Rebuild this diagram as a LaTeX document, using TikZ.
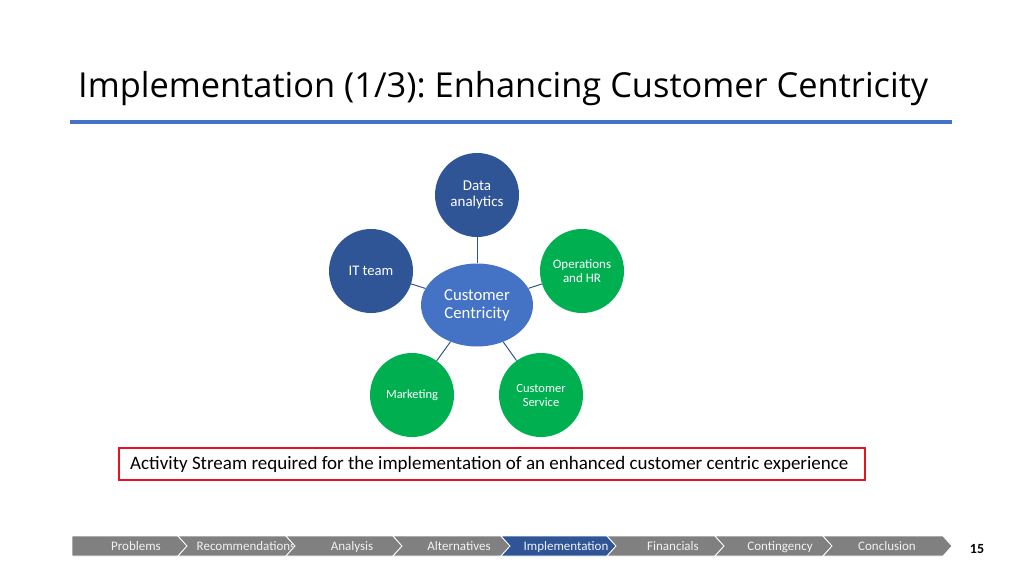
\documentclass[tikz,border=0pt]{standalone}
\usepackage{xcolor}
\usepackage{tikz}
\usepackage{fontspec}
\usetikzlibrary{shapes.geometric}
\setmainfont{Carlito}
\newfontfamily\titlefont{Open Sans}
\definecolor{hubblue}{RGB}{68,114,196}
\definecolor{deepblue}{RGB}{47,85,151}
\definecolor{leafgreen}{RGB}{0,176,80}
\definecolor{navgray}{RGB}{128,128,128}
\definecolor{boxred}{RGB}{232,17,35}
\frenchspacing

\begin{document}
\begin{tikzpicture}[x=1pt,y=-1pt,
    every node/.style={align=center,text=white},
    hub/.style={shape=ellipse,fill=hubblue,minimum width=112pt,minimum height=83pt,inner sep=0pt,font=\fontsize{16.7}{18}\selectfont},
    leaf/.style 2 args={shape=circle,minimum size=84pt,inner sep=0pt,font=\fontsize{#1}{#2}\selectfont},
    link/.style={draw=deepblue,line width=1pt},
    navtext/.style={anchor=base,text=white!95!black,font=\fontsize{13}{15}\selectfont}]
    \useasboundingbox (0,0) rectangle (1024,575);
    % title
    \node[anchor=base west,text=black,inner sep=0pt,font=\titlefont\fontsize{34.4}{40}\selectfont] (title) at (78,98) {Implementation (1/3): Enhancing Customer Centricity};
    \draw[hubblue,line width=4pt] (70,122) -- (952,122);
    % hub and leaves
    \node[hub] (cc) at (477,305) {Customer\\Centricity};
    \node[leaf={15}{16},fill=deepblue] (da) at (477,195) {Data\\analytics};
    \node[leaf={14.6}{16},fill=deepblue] (it) at (371,271) {IT team};
    \node[leaf={13}{14},fill=leafgreen] (op) at (582,271) {Operations\\and HR};
    \node[leaf={12.5}{14},fill=leafgreen] (mk) at (412,395) {Marketing};
    \node[leaf={12.5}{14},fill=leafgreen] (cs) at (541,395) {Customer\\Service};
    \foreach \n in {da,it,op,mk,cs}
        \draw[link] (cc) -- (\n);
    % note
    \node[draw=boxred,line width=2pt,minimum width=746pt,minimum height=32pt] (note) at (492,464) {};
    \node[anchor=west,text=black,inner sep=0pt,font=\fontsize{19}{22}\selectfont] (notetext) at (130,464) {Activity Stream required for the implementation of an enhanced customer centric experience};
    % navigation bar
    \foreach \a/\b/\m/\t/\c [count=\i] in {72/178/136/Problems/navgray,178/286/246/Recommendations/navgray,286/393/352/Analysis/navgray,393/501/459/Alternatives/navgray,501/607/566/Implementation/deepblue,607/715/673/Financials/navgray,715/823/780/Contingency/navgray,823/943/887/Conclusion/navgray}{
        \pgfmathsetmacro\k{\i==1 ? 0 : 9}
        \filldraw[fill=\c,draw=white,line width=0.8pt] (\a,536) -- (\b,536) -- (\b+9,546) -- (\b,556) -- (\a,556) -- (\a+\k,546) -- cycle;
        \node[navtext] (nav\i) at (\m,550) {\t};
    }
    \node[text=black,font=\bfseries\fontsize{14}{16}\selectfont] (page) at (977,549) {15};
\end{tikzpicture}
\end{document}
